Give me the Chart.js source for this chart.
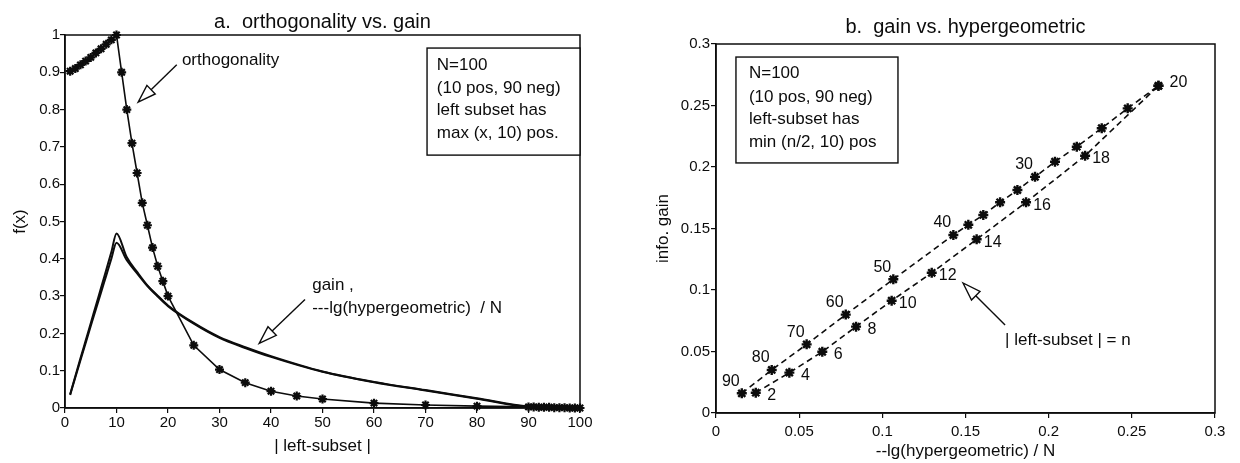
<!DOCTYPE html>
<html lang="en">
<head>
<meta charset="UTF-8">
<title>orthogonality vs. gain / gain vs. hypergeometric</title>
<script src="https://cdn.jsdelivr.net/npm/chart.js@4.4.1/dist/chart.umd.min.js"></script>
<style>
    body { margin: 0; background: #ffffff; }
    #wrap { position: relative; width: 1240px; height: 463px; }
    #left { position: absolute; left: 0; top: 0; }
    #right { position: absolute; left: 610px; top: 0; }
</style>
</head>
<body>
<div id="wrap">
    <canvas id="left" width="610" height="463"></canvas>
    <canvas id="right" width="630" height="463"></canvas>
</div>
<script>
// ---- chart a: orthogonality vs. gain ----
const orthX = [1, 2, 3, 4, 5, 6, 7, 8, 9, 10, 11, 12, 13, 14, 15, 16, 17, 18, 19, 20,
    25, 30, 35, 40, 45, 50, 60, 70, 80, 90, 91, 92, 93, 94, 95, 96, 97, 98, 99, 100];
const orthY = [0.903, 0.91, 0.92, 0.93, 0.94, 0.952, 0.963, 0.975, 0.987, 1.0,
    0.9, 0.8, 0.71, 0.63, 0.55, 0.49, 0.43, 0.38, 0.34, 0.30,
    0.168, 0.103, 0.068, 0.045, 0.032, 0.024, 0.013, 0.008, 0.005,
    0.003, 0.003, 0.002, 0.002, 0.002, 0.001, 0.001, 0.001, 0, 0, 0];

const gainX = [1, 2, 3, 4, 5, 6, 7, 8, 9, 10, 12, 14, 16, 18, 20, 25, 30, 35, 40, 50, 60, 70, 80, 90, 100];
const gainY = [0.037, 0.085, 0.133, 0.18, 0.227, 0.275, 0.322, 0.37, 0.418, 0.468,
    0.404, 0.365, 0.329, 0.301, 0.275, 0.228, 0.19, 0.163, 0.139, 0.098, 0.07, 0.048, 0.026, 0.004, 0];
const hyperY = [0.035, 0.082, 0.128, 0.174, 0.22, 0.265, 0.31, 0.355, 0.4, 0.443,
    0.396, 0.361, 0.327, 0.299, 0.273, 0.226, 0.188, 0.161, 0.137, 0.097, 0.069, 0.047, 0.025, 0.003, 0];

// ---- chart b: gain vs. hypergeometric ----
const upperN = [90, 80, 70, 60, 50, 40, 38, 36, 34, 32, 30, 28, 26, 24, 22, 20];
const upperX = [0.0155, 0.0335, 0.0545, 0.078, 0.1066, 0.1427, 0.1517, 0.1607, 0.1708, 0.1812,
    0.1918, 0.2038, 0.2169, 0.2319, 0.2475, 0.266];
const upperY = [0.016, 0.035, 0.0558, 0.080, 0.1087, 0.1447, 0.153, 0.161, 0.1713, 0.1813,
    0.192, 0.2043, 0.2165, 0.2315, 0.2477, 0.266];

const lowerN = [2, 4, 6, 8, 10, 12, 14, 16, 18, 20];
const lowerX = [0.0239, 0.0441, 0.0639, 0.0842, 0.1056, 0.1297, 0.1567, 0.1864, 0.2219, 0.266];
const lowerY = [0.0165, 0.0328, 0.0498, 0.0702, 0.0913, 0.114, 0.1412, 0.1713, 0.2092, 0.266];

const upperShown = [90, 80, 70, 60, 50, 40, 30, 20];
const lowerShown = [2, 4, 6, 8, 10, 12, 14, 16, 18];

const ink = '#0c0c0c';
const fontFamily = "'Liberation Sans', Arial, sans-serif";
Chart.defaults.font.family = fontFamily;
Chart.defaults.color = ink;
Chart.defaults.animation = false;

function pts(xs, ys) {
    return xs.map((x, i) => ({ x: x, y: ys[i] }));
}

function fmt(v) {
    return String(+v.toFixed(2));
}

// box round the plot area
const frame = {
    id: 'frame',
    afterDraw(chart) {
        const a = chart.chartArea;
        const ctx = chart.ctx;
        ctx.save();
        ctx.strokeStyle = ink;
        ctx.lineWidth = 1.5;
        ctx.strokeRect(a.left, a.top, a.right - a.left, a.bottom - a.top);
        ctx.restore();
    }
};

function arrow(ctx, x0, y0, x1, y1) {
    const ang = Math.atan2(y1 - y0, x1 - x0);
    const len = 18, half = 6;
    const bx = x1 - len * Math.cos(ang), by = y1 - len * Math.sin(ang);
    ctx.beginPath();
    ctx.moveTo(x0, y0);
    ctx.lineTo(bx, by);
    ctx.stroke();
    ctx.beginPath();
    ctx.moveTo(x1, y1);
    ctx.lineTo(bx + half * Math.sin(ang), by - half * Math.cos(ang));
    ctx.lineTo(bx - half * Math.sin(ang), by + half * Math.cos(ang));
    ctx.closePath();
    ctx.fillStyle = '#ffffff';
    ctx.fill();
    ctx.stroke();
}

// text notes, boxes and arrows, placed in data units
const notes = {
    id: 'notes',
    afterDraw(chart, args, opts) {
        const ctx = chart.ctx;
        const sx = chart.scales.x, sy = chart.scales.y;
        ctx.save();
        ctx.strokeStyle = ink;
        ctx.lineWidth = 1.4;
        (opts.boxes || []).forEach(b => {
            const x0 = sx.getPixelForValue(b.x0), x1 = sx.getPixelForValue(b.x1);
            const y0 = sy.getPixelForValue(b.y0), y1 = sy.getPixelForValue(b.y1);
            ctx.fillStyle = '#ffffff';
            ctx.fillRect(x0, y0, x1 - x0, y1 - y0);
            ctx.strokeRect(x0, y0, x1 - x0, y1 - y0);
        });
        (opts.arrows || []).forEach(a => {
            arrow(ctx, sx.getPixelForValue(a.x0), sy.getPixelForValue(a.y0),
                sx.getPixelForValue(a.x1), sy.getPixelForValue(a.y1));
        });
        ctx.fillStyle = ink;
        ctx.font = '17px ' + fontFamily;
        ctx.textBaseline = 'middle';
        (opts.texts || []).forEach(t => {
            ctx.textAlign = t.align || 'left';
            ctx.fillText(t.text, sx.getPixelForValue(t.x), sy.getPixelForValue(t.y));
        });
        ctx.restore();
    }
};

// n labels beside the points of chart b
const nLabels = {
    id: 'nLabels',
    afterDatasetsDraw(chart, args, opts) {
        const ctx = chart.ctx;
        ctx.save();
        ctx.fillStyle = ink;
        ctx.font = '16px ' + fontFamily;
        ctx.textAlign = 'center';
        ctx.textBaseline = 'middle';
        (opts.sets || []).forEach(s => {
            const meta = chart.getDatasetMeta(s.dataset);
            meta.data.forEach((p, j) => {
                const n = s.n[j];
                if (!s.shown.includes(n)) return;
                const off = s.offset(n);
                ctx.fillText(String(n), p.x + off[0], p.y + off[1]);
            });
        });
        ctx.restore();
    }
};

function axis(min, max, step, titleText, titlePad, size, horizontal, tickPad) {
    return {
        type: 'linear',
        min: min,
        max: max,
        ticks: { stepSize: step, callback: fmt, font: { size: 15 }, padding: tickPad, maxRotation: 0, color: ink },
        grid: { drawOnChartArea: false, tickLength: 5, color: ink, lineWidth: 1.2 },
        border: { color: ink, width: 1.5 },
        title: { display: true, text: titleText, font: { size: 17 }, color: ink, padding: titlePad },
        afterFit: s => {
            if (horizontal) s.height = size; else s.width = size;
        }
    };
}

const starLine = {
    showLine: true,
    borderColor: ink,
    pointStyle: 'star',
    pointBorderColor: ink,
    clip: false
};

new Chart(document.getElementById('left'), {
    type: 'scatter',
    data: {
        datasets: [
            Object.assign({}, starLine, {
                label: 'orthogonality',
                data: pts(orthX, orthY),
                borderWidth: 1.6,
                pointRadius: 4.5,
                pointBorderWidth: 2.2
            }),
            {
                label: 'gain',
                data: pts(gainX, gainY),
                showLine: true,
                borderColor: ink,
                borderWidth: 2,
                pointRadius: 0,
                cubicInterpolationMode: 'monotone',
                clip: false
            },
            {
                label: '-lg(hypergeometric) / N',
                data: pts(gainX, hyperY),
                showLine: true,
                borderColor: ink,
                borderWidth: 2,
                pointRadius: 0,
                cubicInterpolationMode: 'monotone',
                clip: false
            }
        ]
    },
    options: {
        responsive: false,
        layout: { padding: { right: 30 } },
        scales: {
            x: axis(0, 100, 10, '| left-subset |', { top: 0, bottom: 6 }, 55, true, 1),
            y: axis(0, 1, 0.1, 'f(x)', { top: 10, bottom: 0 }, 65, false, 0)
        },
        plugins: {
            legend: { display: false },
            tooltip: { enabled: false },
            title: {
                display: true,
                text: 'a.  orthogonality vs. gain',
                fullSize: false,
                color: ink,
                font: { size: 20, weight: 'normal' },
                padding: { top: 10, bottom: 1 }
            },
            notes: {
                boxes: [{ x0: 70.3, y0: 0.965, x1: 100, y1: 0.678 }],
                arrows: [
                    { x0: 21.7, y0: 0.92, x1: 14.2, y1: 0.82 },
                    { x0: 46.6, y0: 0.291, x1: 37.7, y1: 0.173 }
                ],
                texts: [
                    { x: 22.7, y: 0.933, text: 'orthogonality' },
                    { x: 48, y: 0.33, text: 'gain ,' },
                    { x: 48, y: 0.268, text: '---lg(hypergeometric)  / N' },
                    { x: 72.2, y: 0.92, text: 'N=100' },
                    { x: 72.2, y: 0.858, text: '(10 pos, 90 neg)' },
                    { x: 72.2, y: 0.799, text: 'left subset has' },
                    { x: 72.2, y: 0.737, text: 'max (x, 10) pos.' }
                ]
            }
        }
    },
    plugins: [frame, notes]
});

new Chart(document.getElementById('right'), {
    type: 'scatter',
    data: {
        datasets: [
            Object.assign({}, starLine, {
                label: 'n = 20 .. 90',
                data: pts(upperX, upperY),
                borderWidth: 1.6,
                borderDash: [6, 4],
                pointRadius: 5,
                pointBorderWidth: 2.4
            }),
            Object.assign({}, starLine, {
                label: 'n = 2 .. 20',
                data: pts(lowerX, lowerY),
                borderWidth: 1.6,
                borderDash: [6, 4],
                pointRadius: 5,
                pointBorderWidth: 2.4
            })
        ]
    },
    options: {
        responsive: false,
        layout: { padding: { right: 25 } },
        scales: {
            x: axis(0, 0.3, 0.05, '--lg(hypergeometric) / N', { top: 0, bottom: 1 }, 50, true, 5),
            y: axis(0, 0.3, 0.05, 'info. gain', { top: 43, bottom: 0 }, 106, false, 1)
        },
        plugins: {
            legend: { display: false },
            tooltip: { enabled: false },
            title: {
                display: true,
                text: 'b.  gain vs. hypergeometric',
                fullSize: false,
                color: ink,
                font: { size: 20, weight: 'normal' },
                padding: { top: 15, bottom: 5 }
            },
            nLabels: {
                sets: [
                    { dataset: 0, n: upperN, shown: upperShown, offset: n => n === 20 ? [20, -3] : [-11, -12] },
                    { dataset: 1, n: lowerN, shown: lowerShown, offset: n => [16, 3] }
                ]
            },
            notes: {
                boxes: [{ x0: 0.012, y0: 0.2894, x1: 0.1094, y1: 0.2033 }],
                arrows: [{ x0: 0.1738, y0: 0.0715, x1: 0.1485, y1: 0.1057 }],
                texts: [
                    { x: 0.0198, y: 0.2764, text: 'N=100' },
                    { x: 0.0198, y: 0.2569, text: '(10 pos, 90 neg)' },
                    { x: 0.0198, y: 0.239, text: 'left-subset has' },
                    { x: 0.0198, y: 0.2203, text: 'min (n/2, 10) pos' },
                    { x: 0.1738, y: 0.0593, text: '| left-subset | = n' }
                ]
            }
        }
    },
    plugins: [frame, notes, nLabels]
});
</script>
</body>
</html>
